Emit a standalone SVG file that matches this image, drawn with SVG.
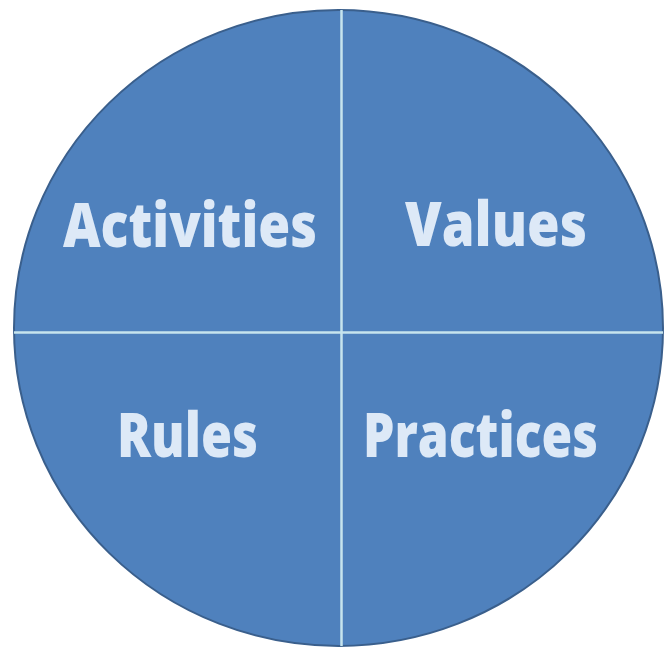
<svg xmlns="http://www.w3.org/2000/svg" width="669" height="652" viewBox="0 0 669 652">
<style>
.lbl{font-family:"Open Sans","Liberation Sans",sans-serif;font-weight:800;font-size:62px;fill:#dde9f7}
.div{stroke:#c6e4ee;stroke-width:2.5;fill:none}
</style>
<rect width="669" height="652" fill="#ffffff"/>
<g id="circle">
<ellipse cx="338.5" cy="328" rx="324.5" ry="318" fill="#4f81bd" stroke="#3a5f8c" stroke-width="2"/>
</g>
<g id="connectors">
<line class="div" x1="341.5" y1="10" x2="341.5" y2="646"/>
<line class="div" x1="14" y1="332.5" x2="663" y2="332.5"/>
</g>
<g id="activities"><text class="lbl" x="63" y="247" textLength="254" lengthAdjust="spacingAndGlyphs">Activities</text></g>
<g id="values"><text class="lbl" x="405" y="246" textLength="182" lengthAdjust="spacingAndGlyphs">Values</text></g>
<g id="rules"><text class="lbl" x="117" y="457" textLength="141" lengthAdjust="spacingAndGlyphs">Rules</text></g>
<g id="practices"><text class="lbl" x="363" y="457" textLength="235" lengthAdjust="spacingAndGlyphs">Practices</text></g>
</svg>
